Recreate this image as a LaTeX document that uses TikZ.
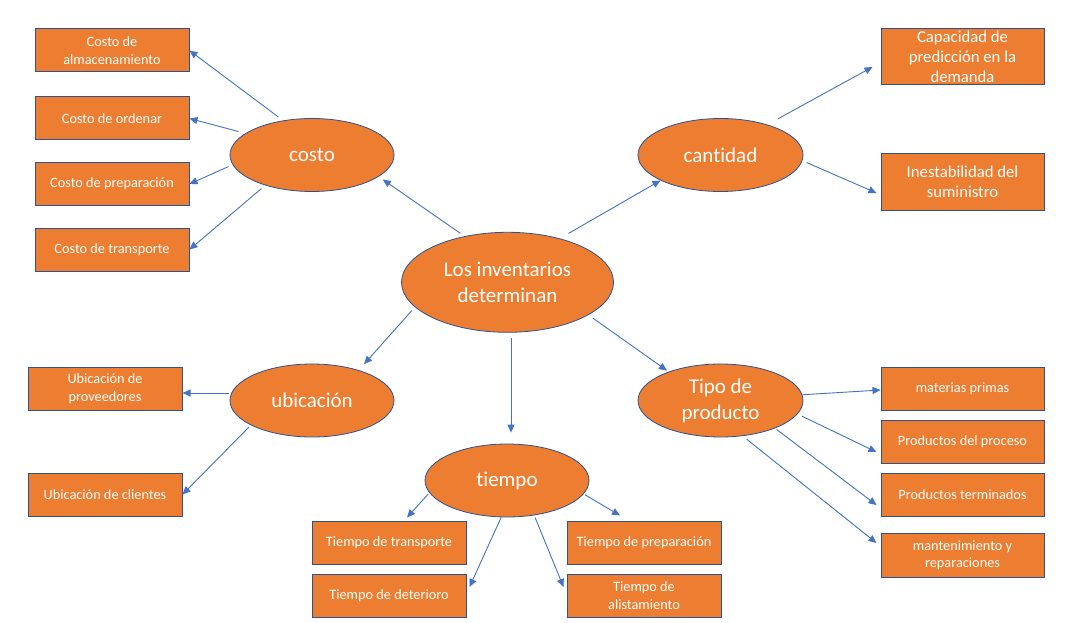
\documentclass[tikz,border=0pt]{standalone}
\usepackage{fontspec}
\setmainfont{Carlito}[Ligatures=NoCommon]
\usetikzlibrary{shapes.geometric,arrows.meta,calc}
\definecolor{orfill}{HTML}{ED7D31}
\definecolor{bord}{HTML}{2F528F}
\definecolor{arrblue}{HTML}{4472C4}
\tikzset{
  boxnode/.style={rectangle, draw=bord, fill=orfill, line width=1pt, text=white,
    minimum width=154pt, minimum height=43pt, inner sep=0pt, align=center,
    font=\fontsize{14.3}{17.5}\selectfont},
  bigbox/.style={boxnode, minimum width=163pt, minimum height=56pt,
    font=\fontsize{16.7}{20}\selectfont},
  widebox/.style={boxnode, minimum width=163pt},
  ellnode/.style={ellipse, draw=bord, fill=orfill, line width=0.8pt, text=white,
    minimum width=164pt, minimum height=73pt, inner sep=0pt, align=center,
    font=\fontsize{21}{26}\selectfont},
  arr/.style={draw=arrblue, line width=0.9pt, -{Triangle[length=8pt,width=7pt]}}
}
\begin{document}
\begin{tikzpicture}[x=1pt,y=-1pt]
\path[use as bounding box, fill=white] (0,0) rectangle (1074,623);
% ellipses
\node[ellnode, minimum width=212pt, minimum height=100pt] (main) at (507.5,282.3) {Los inventarios\\determinan};
\node[ellnode] (costo) at (312,155) {costo};
\node[ellnode, minimum width=165pt] (cant) at (720.5,155) {cantidad};
\node[ellnode] (ubic) at (312,400.5) {ubicación};
\node[ellnode] (tiempo) at (507,480.5) {tiempo};
\node[ellnode, minimum width=165pt] (tipo) at (720.5,400.5) {Tipo de\\producto};
% left boxes
\node[boxnode] (alm) at (112,50.5) {Costo de\\almacenamiento};
\node[boxnode] (ord) at (112,118.5) {Costo de ordenar};
\node[boxnode] (prep) at (112,184) {Costo de preparación};
\node[boxnode] (trans) at (112,249.5) {Costo de transporte};
% right top
\node[bigbox] (cap) at (962.5,57) {Capacidad de\\predicción en la\\demanda};
\node[bigbox] (inest) at (962.5,182) {Inestabilidad del\\suministro};
% ubicacion boxes
\node[boxnode] (prov) at (105,388.5) {Ubicación de\\proveedores};
\node[boxnode] (cli) at (105,494.5) {Ubicación de clientes};
% tiempo boxes
\node[boxnode] (ttrans) at (389,542.5) {Tiempo de transporte};
\node[boxnode] (tdet) at (389,595.5) {Tiempo de deterioro};
\node[boxnode] (tprep) at (644,542.5) {Tiempo de preparación};
\node[boxnode] (talis) at (644,595.5) {Tiempo de\\alistamiento};
% tipo boxes
\node[widebox] (mat) at (962.5,388.5) {materias primas};
\node[widebox] (proc) at (962.5,441.5) {Productos del proceso};
\node[widebox] (term) at (962.5,494.5) {Productos terminados};
\node[widebox, minimum height=44pt] (mant) at (962.5,555) {mantenimiento y\\reparaciones};
% connectors from main
\draw[arr, shorten <=5pt, shorten >=5pt] (main.133) -- (costo.-18);
\draw[arr, shorten <=10pt] (main.40) -- (cant.203);
\draw[arr, shorten <=4.5pt, shorten >=8pt] (main.195.6) -- (ubic.33);
\draw[arr] ($(main.south)+(3.5,5)$) -- ($(tiempo.north)+(4,-11)$);
\draw[arr, shorten <=5.5pt, shorten >=2pt] (main.-22) -- (tipo.151);
% costo
\draw[arr, shorten <=6pt] (costo.130) -- (alm.east);
\draw[arr, shorten <=7pt] (costo.162.7) -- (ord.east);
\draw[arr, shorten <=4.4pt] (costo.187.5) -- (prep.east);
\draw[arr, shorten <=5pt] (costo.213.4) -- (trans.east);
% cantidad
\draw[arr, shorten <=12pt] (cant.33.7) -- ($(cap.west)+(-8,10)$);
\draw[arr, shorten <=4.4pt] (cant.-4.7) -- ($(inest.west)+(-4,11)$);
% ubicacion
\draw[arr] ($(ubic.west)+(-1,-7.5)$) -- ($(prov.east)+(0,4.5)$);
\draw[arr, shorten <=2.5pt] (ubic.202) -- (cli.east);
% tiempo
\draw[arr, shorten <=1.6pt] (tiempo.189.8) -- ($(ttrans.north)+(18,-3)$);
\draw[arr] (tiempo.-99.3) -- ($(tdet.east)+(3,-8.5)$);
\draw[arr, shorten <=2.4pt] (tiempo.-52.5) -- ($(talis.west)+(-3,-8.5)$);
\draw[arr, shorten <=1.6pt] (tiempo.-10.7) -- ($(tprep.north)+(-24,-5)$);
% tipo
\draw[arr] (tipo.4.5) -- ($(mat.west)+(0,1.5)$);
\draw[arr, shorten <=5pt] (tipo.-10.1) -- ($(proc.west)+(-4,10.5)$);
\draw[arr, shorten <=2pt] (tipo.-27.2) -- ($(term.west)+(-4,10.5)$);
\draw[arr, shorten <=5pt] (tipo.-58.2) -- ($(mant.west)+(-4,-12)$);
\end{tikzpicture}
\end{document}
